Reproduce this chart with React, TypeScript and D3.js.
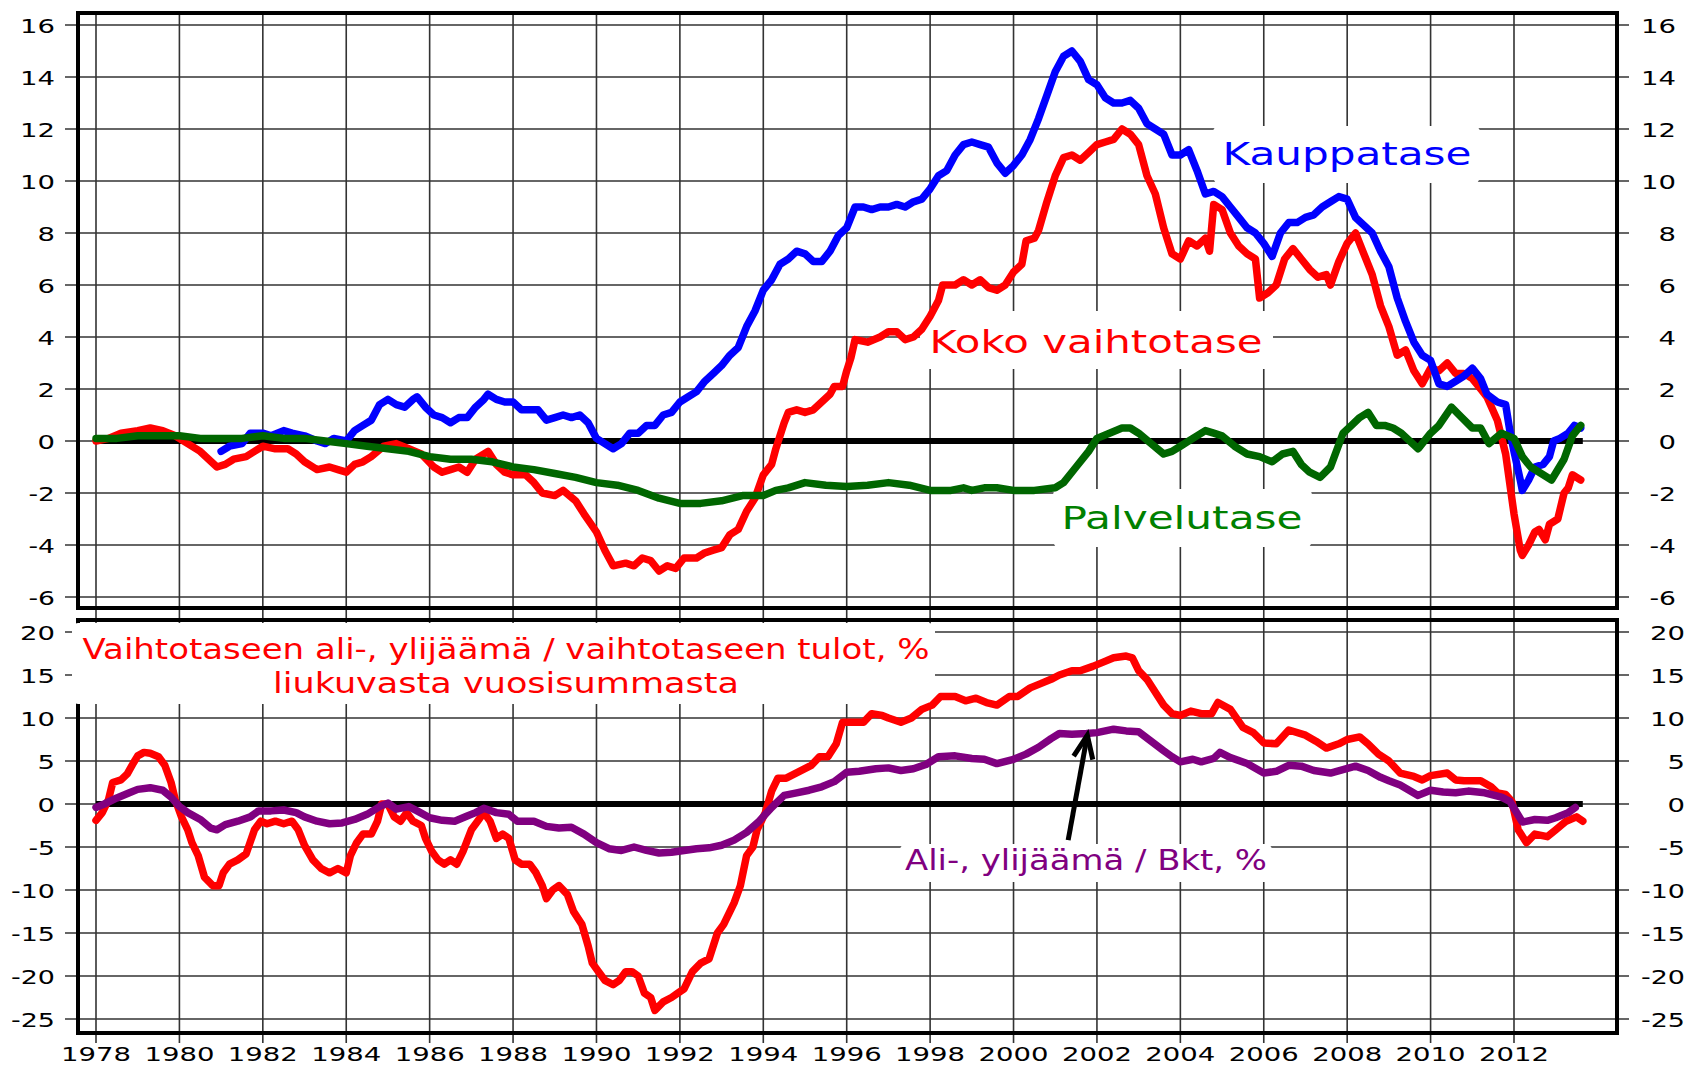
import React from 'react';
import * as d3 from 'd3';

type Pt = [number, number];

// x ticks (years) and y ticks for both panels
const years = d3.range(1978, 2013, 2);
const topTicks = d3.range(-6, 17, 2);
const botTicks = d3.range(-25, 21, 5);
const zeroSpan = [1978, 2013.65];

// upper panel, bn EUR rolling 12 months
const kokoVaihtotase: Pt[] = [
  [1978.0,0.0],[1978.3,0.1],[1978.6,0.3],[1979.0,0.4],[1979.3,0.5],[1979.6,0.4],[1979.9,0.2],[1980.2,-0.1],[1980.5,-0.4],[1980.7,-0.7],[1980.9,-1.0],
  [1981.1,-0.9],[1981.3,-0.7],[1981.6,-0.6],[1981.8,-0.4],[1982.0,-0.2],[1982.3,-0.3],[1982.6,-0.3],[1982.8,-0.5],[1983.0,-0.8],[1983.3,-1.1],
  [1983.6,-1.0],[1983.8,-1.1],[1984.0,-1.2],[1984.2,-0.9],[1984.4,-0.8],[1984.6,-0.6],[1984.9,-0.2],[1985.2,-0.1],[1985.5,-0.3],[1985.8,-0.5],
  [1986.1,-1.0],[1986.3,-1.2],[1986.5,-1.1],[1986.7,-1.0],[1986.9,-1.2],[1987.1,-0.7],[1987.4,-0.4],[1987.6,-0.9],[1987.8,-1.2],[1988.0,-1.3],
  [1988.3,-1.3],[1988.5,-1.6],[1988.7,-2.0],[1989.0,-2.1],[1989.2,-1.9],[1989.5,-2.3],[1989.7,-2.8],[1990.0,-3.5],[1990.2,-4.2],[1990.4,-4.8],
  [1990.7,-4.7],[1990.9,-4.8],[1991.1,-4.5],[1991.3,-4.6],[1991.5,-5.0],[1991.7,-4.8],[1991.9,-4.9],[1992.1,-4.5],[1992.4,-4.5],[1992.6,-4.3],
  [1992.8,-4.2],[1993.0,-4.1],[1993.2,-3.6],[1993.4,-3.4],[1993.6,-2.7],[1993.8,-2.2],[1994.0,-1.3],[1994.2,-0.9],[1994.3,-0.3],[1994.5,0.7],
  [1994.6,1.1],[1994.8,1.2],[1995.0,1.1],[1995.2,1.2],[1995.4,1.5],[1995.6,1.8],[1995.7,2.1],[1995.9,2.1],[1996.0,2.7],[1996.1,3.2],[1996.2,3.9],
  [1996.5,3.8],[1996.8,4.0],[1997.0,4.2],[1997.2,4.2],[1997.4,3.9],[1997.6,4.0],[1997.8,4.3],[1998.0,4.8],[1998.2,5.4],[1998.3,6.0],[1998.6,6.0],
  [1998.8,6.2],[1999.0,6.0],[1999.2,6.2],[1999.4,5.9],[1999.6,5.8],[1999.8,6.0],[2000.0,6.5],[2000.2,6.8],[2000.3,7.7],[2000.5,7.8],[2000.6,8.1],
  [2000.8,9.2],[2001.0,10.2],[2001.2,10.9],[2001.4,11.0],[2001.6,10.8],[2001.8,11.1],[2002.0,11.4],[2002.2,11.5],[2002.4,11.6],[2002.6,12.0],
  [2002.8,11.8],[2003.0,11.4],[2003.2,10.2],[2003.4,9.5],[2003.6,8.2],[2003.8,7.2],[2004.0,7.0],[2004.2,7.7],[2004.4,7.5],[2004.6,7.8],[2004.7,7.3],
  [2004.8,9.1],[2005.0,8.9],[2005.2,8.0],[2005.4,7.5],[2005.6,7.2],[2005.8,7.0],[2005.9,5.5],[2006.1,5.7],[2006.3,6.0],[2006.5,7.0],[2006.7,7.4],
  [2006.9,7.0],[2007.1,6.6],[2007.3,6.3],[2007.5,6.4],[2007.6,6.0],[2007.8,6.9],[2008.0,7.6],[2008.2,8.0],[2008.4,7.2],[2008.6,6.4],[2008.8,5.2],
  [2009.0,4.4],[2009.2,3.3],[2009.4,3.5],[2009.6,2.7],[2009.8,2.2],[2010.0,2.8],[2010.2,2.7],[2010.4,3.0],[2010.6,2.6],[2010.8,2.6],[2011.0,2.4],
  [2011.2,2.0],[2011.35,1.7],[2011.6,0.8],[2011.8,-0.5],[2012.0,-2.8],[2012.15,-4.2],[2012.2,-4.4],[2012.35,-4.0],[2012.5,-3.5],[2012.6,-3.4],
  [2012.75,-3.8],[2012.85,-3.2],[2013.05,-3.0],[2013.2,-2.0],[2013.3,-1.8],[2013.4,-1.3],[2013.6,-1.5],
];

const kauppatase: Pt[] = [
  [1981.0,-0.4],[1981.2,-0.2],[1981.5,-0.1],[1981.7,0.3],[1982.0,0.3],[1982.2,0.2],[1982.5,0.4],[1982.7,0.3],[1983.0,0.2],[1983.3,0.0],[1983.5,-0.1],
  [1983.7,0.1],[1984.0,0.0],[1984.2,0.4],[1984.4,0.6],[1984.6,0.8],[1984.8,1.4],[1985.0,1.6],[1985.2,1.4],[1985.4,1.3],[1985.6,1.6],[1985.7,1.7],
  [1985.9,1.3],[1986.1,1.0],[1986.3,0.9],[1986.5,0.7],[1986.7,0.9],[1986.9,0.9],[1987.1,1.3],[1987.3,1.6],[1987.4,1.8],[1987.6,1.6],[1987.8,1.5],
  [1988.0,1.5],[1988.2,1.2],[1988.4,1.2],[1988.6,1.2],[1988.8,0.8],[1989.0,0.9],[1989.2,1.0],[1989.4,0.9],[1989.6,1.0],[1989.8,0.7],[1990.0,0.1],
  [1990.2,-0.1],[1990.4,-0.3],[1990.6,-0.1],[1990.8,0.3],[1991.0,0.3],[1991.2,0.6],[1991.4,0.6],[1991.6,1.0],[1991.8,1.1],[1992.0,1.5],[1992.2,1.7],
  [1992.4,1.9],[1992.6,2.3],[1992.8,2.6],[1993.0,2.9],[1993.2,3.3],[1993.4,3.6],[1993.6,4.4],[1993.8,5.0],[1994.0,5.8],[1994.2,6.2],[1994.4,6.8],
  [1994.6,7.0],[1994.8,7.3],[1995.0,7.2],[1995.2,6.9],[1995.4,6.9],[1995.6,7.3],[1995.8,7.9],[1996.0,8.2],[1996.2,9.0],[1996.4,9.0],[1996.6,8.9],
  [1996.8,9.0],[1997.0,9.0],[1997.2,9.1],[1997.4,9.0],[1997.6,9.2],[1997.8,9.3],[1998.0,9.7],[1998.2,10.2],[1998.4,10.4],[1998.6,11.0],[1998.8,11.4],
  [1999.0,11.5],[1999.2,11.4],[1999.4,11.3],[1999.6,10.7],[1999.8,10.3],[2000.0,10.6],[2000.2,11.0],[2000.4,11.6],[2000.6,12.4],[2000.8,13.3],
  [2001.0,14.2],[2001.2,14.8],[2001.4,15.0],[2001.6,14.6],[2001.8,13.9],[2002.0,13.7],[2002.2,13.2],[2002.4,13.0],[2002.6,13.0],[2002.8,13.1],
  [2003.0,12.8],[2003.2,12.2],[2003.4,12.0],[2003.6,11.8],[2003.8,11.0],[2004.0,11.0],[2004.2,11.2],[2004.4,10.4],[2004.6,9.5],[2004.8,9.6],
  [2005.0,9.4],[2005.2,9.0],[2005.4,8.6],[2005.6,8.2],[2005.8,8.0],[2006.0,7.6],[2006.2,7.1],[2006.4,8.0],[2006.6,8.4],[2006.8,8.4],[2007.0,8.6],
  [2007.2,8.7],[2007.4,9.0],[2007.6,9.2],[2007.8,9.4],[2008.0,9.3],[2008.2,8.6],[2008.4,8.3],[2008.6,8.0],[2008.8,7.3],[2009.0,6.7],[2009.2,5.5],
  [2009.4,4.6],[2009.6,3.8],[2009.8,3.3],[2010.0,3.1],[2010.2,2.2],[2010.4,2.1],[2010.6,2.3],[2010.8,2.5],[2011.0,2.8],[2011.2,2.4],[2011.35,1.8],
  [2011.6,1.5],[2011.8,1.4],[2011.9,0.4],[2012.0,-0.4],[2012.15,-1.5],[2012.2,-1.9],[2012.35,-1.5],[2012.5,-1.0],[2012.7,-0.9],[2012.85,-0.6],
  [2012.95,0.0],[2013.1,0.1],[2013.3,0.3],[2013.45,0.6],[2013.6,0.5],
];

const palvelutase: Pt[] = [
  [1978.0,0.1],[1978.5,0.1],[1979.0,0.2],[1979.5,0.2],[1980.0,0.2],[1980.5,0.1],[1981.0,0.1],[1981.5,0.1],[1982.0,0.2],[1982.5,0.1],[1983.0,0.1],
  [1983.5,0.0],[1984.0,-0.1],[1984.5,-0.2],[1985.0,-0.3],[1985.5,-0.4],[1986.0,-0.6],[1986.5,-0.7],[1987.0,-0.7],[1987.5,-0.8],[1988.0,-1.0],
  [1988.5,-1.1],[1989.0,-1.25],[1989.5,-1.4],[1990.0,-1.6],[1990.5,-1.7],[1991.0,-1.9],[1991.5,-2.2],[1992.0,-2.4],[1992.5,-2.4],[1993.0,-2.3],
  [1993.5,-2.1],[1994.0,-2.1],[1994.3,-1.9],[1994.6,-1.8],[1995.0,-1.6],[1995.5,-1.7],[1996.0,-1.75],[1996.5,-1.7],[1997.0,-1.6],[1997.5,-1.7],
  [1998.0,-1.9],[1998.5,-1.9],[1998.8,-1.8],[1999.0,-1.9],[1999.3,-1.8],[1999.6,-1.8],[2000.0,-1.9],[2000.5,-1.9],[2001.0,-1.8],[2001.2,-1.6],
  [2001.5,-1.0],[2001.8,-0.4],[2002.0,0.1],[2002.3,0.3],[2002.6,0.5],[2002.8,0.5],[2003.0,0.3],[2003.3,-0.1],[2003.6,-0.5],[2003.8,-0.4],
  [2004.0,-0.2],[2004.3,0.1],[2004.6,0.4],[2004.8,0.3],[2005.0,0.2],[2005.3,-0.2],[2005.6,-0.5],[2005.9,-0.6],[2006.2,-0.8],[2006.45,-0.5],
  [2006.7,-0.4],[2006.9,-0.9],[2007.1,-1.2],[2007.35,-1.4],[2007.6,-1.0],[2007.9,0.3],[2008.1,0.6],[2008.3,0.9],[2008.5,1.1],[2008.7,0.6],
  [2008.9,0.6],[2009.1,0.5],[2009.3,0.3],[2009.5,0.0],[2009.7,-0.3],[2010.0,0.3],[2010.2,0.6],[2010.5,1.3],[2010.75,0.9],[2011.0,0.5],[2011.2,0.5],
  [2011.4,-0.1],[2011.7,0.3],[2012.0,0.1],[2012.2,-0.6],[2012.4,-1.0],[2012.7,-1.3],[2012.9,-1.5],[2013.2,-0.7],[2013.4,0.2],[2013.6,0.6],
];

// lower panel, %
const tulotPct: Pt[] = [
  [1978.0,-1.9],[1978.15,-1.0],[1978.3,0.5],[1978.4,2.5],[1978.6,2.8],[1978.75,3.5],[1978.9,4.8],[1979.0,5.6],[1979.15,6.0],[1979.3,5.9],
  [1979.5,5.5],[1979.65,4.5],[1979.8,2.5],[1979.9,0.5],[1980.05,-1.5],[1980.2,-3.0],[1980.3,-4.5],[1980.45,-6.0],[1980.6,-8.5],[1980.8,-9.5],
  [1980.95,-9.5],[1981.05,-8.0],[1981.2,-7.0],[1981.4,-6.5],[1981.6,-5.8],[1981.8,-3.0],[1981.95,-2.0],[1982.1,-2.3],[1982.3,-2.0],[1982.5,-2.3],
  [1982.7,-2.0],[1982.85,-3.0],[1983.0,-4.8],[1983.2,-6.5],[1983.4,-7.5],[1983.6,-8.0],[1983.8,-7.5],[1984.0,-8.0],[1984.1,-6.0],[1984.25,-4.5],
  [1984.4,-3.5],[1984.6,-3.5],[1984.75,-2.0],[1984.85,0.0],[1985.0,0.0],[1985.15,-1.5],[1985.3,-2.0],[1985.45,-1.0],[1985.6,-2.0],[1985.8,-2.5],
  [1985.9,-4.0],[1986.05,-5.5],[1986.2,-6.5],[1986.35,-7.0],[1986.5,-6.5],[1986.65,-7.0],[1986.8,-5.5],[1987.0,-3.0],[1987.15,-2.0],[1987.3,-1.0],
  [1987.45,-2.0],[1987.6,-4.0],[1987.75,-3.5],[1987.9,-4.0],[1988.05,-6.5],[1988.2,-7.0],[1988.4,-7.0],[1988.55,-8.0],[1988.7,-9.5],[1988.8,-11.0],
  [1988.95,-10.0],[1989.1,-9.5],[1989.3,-10.5],[1989.45,-12.5],[1989.65,-14.0],[1989.8,-16.5],[1989.9,-18.5],[1990.05,-19.5],[1990.2,-20.5],
  [1990.4,-21.0],[1990.55,-20.5],[1990.7,-19.5],[1990.85,-19.5],[1991.0,-20.0],[1991.15,-22.0],[1991.3,-22.5],[1991.4,-24.0],[1991.6,-23.0],
  [1991.8,-22.5],[1991.95,-22.0],[1992.1,-21.5],[1992.3,-19.5],[1992.5,-18.5],[1992.7,-18.0],[1992.9,-15.0],[1993.05,-14.0],[1993.3,-11.5],
  [1993.45,-9.5],[1993.6,-6.0],[1993.75,-5.0],[1993.85,-3.0],[1994.05,-1.0],[1994.2,1.5],[1994.35,3.0],[1994.55,3.0],[1994.75,3.5],[1994.95,4.0],
  [1995.15,4.5],[1995.35,5.5],[1995.55,5.5],[1995.75,7.0],[1995.9,9.5],[1996.1,9.5],[1996.4,9.5],[1996.6,10.5],[1996.85,10.3],[1997.0,10.0],
  [1997.3,9.5],[1997.55,10.0],[1997.8,11.0],[1998.05,11.5],[1998.25,12.5],[1998.6,12.5],[1998.85,12.0],[1999.1,12.3],[1999.35,11.8],[1999.6,11.5],
  [1999.9,12.5],[2000.1,12.5],[2000.4,13.5],[2000.65,14.0],[2000.9,14.5],[2001.1,15.0],[2001.4,15.5],[2001.6,15.5],[2001.9,16.0],[2002.15,16.5],
  [2002.4,17.0],[2002.7,17.2],[2002.85,17.0],[2003.0,15.5],[2003.2,14.5],[2003.4,13.0],[2003.6,11.5],[2003.8,10.5],[2004.0,10.3],[2004.25,10.8],
  [2004.5,10.5],[2004.75,10.5],[2004.9,11.8],[2005.2,11.0],[2005.5,8.9],[2005.75,8.3],[2006.0,7.1],[2006.3,7.0],[2006.6,8.6],[2007.0,8.0],
  [2007.25,7.3],[2007.5,6.5],[2007.8,7.0],[2008.0,7.5],[2008.3,7.8],[2008.5,7.0],[2008.75,5.8],[2009.0,5.0],[2009.27,3.6],[2009.6,3.2],[2009.8,2.8],
  [2010.0,3.3],[2010.4,3.6],[2010.6,2.8],[2010.8,2.7],[2011.2,2.7],[2011.45,2.0],[2011.6,1.3],[2011.8,1.1],[2011.95,0.3],[2012.1,-3.0],[2012.3,-4.5],
  [2012.5,-3.5],[2012.8,-3.8],[2013.0,-3.0],[2013.25,-2.0],[2013.5,-1.5],[2013.65,-2.0],
];

const bktPct: Pt[] = [
  [1978.0,-0.4],[1978.2,0.0],[1978.5,0.7],[1978.8,1.3],[1979.0,1.7],[1979.3,1.9],[1979.6,1.6],[1979.8,0.8],[1980.0,-0.3],[1980.2,-1.0],[1980.5,-1.8],
  [1980.75,-2.8],[1980.9,-3.0],[1981.1,-2.4],[1981.4,-2.0],[1981.7,-1.5],[1981.9,-0.8],[1982.2,-0.8],[1982.5,-0.7],[1982.8,-1.0],[1983.0,-1.5],
  [1983.3,-2.0],[1983.6,-2.3],[1983.9,-2.2],[1984.2,-1.8],[1984.5,-1.2],[1984.8,-0.3],[1985.0,0.1],[1985.2,-0.6],[1985.5,-0.3],[1985.7,-0.8],
  [1986.0,-1.6],[1986.3,-1.9],[1986.6,-2.0],[1986.9,-1.4],[1987.1,-1.0],[1987.3,-0.5],[1987.6,-1.0],[1987.9,-1.2],[1988.1,-2.0],[1988.5,-2.0],
  [1988.8,-2.6],[1989.1,-2.8],[1989.4,-2.7],[1989.7,-3.5],[1990.0,-4.5],[1990.3,-5.2],[1990.6,-5.4],[1990.9,-5.0],[1991.2,-5.4],[1991.5,-5.7],
  [1991.8,-5.6],[1992.1,-5.4],[1992.4,-5.2],[1992.7,-5.1],[1993.0,-4.8],[1993.3,-4.2],[1993.6,-3.3],[1993.9,-2.0],[1994.2,-0.4],[1994.5,1.0],
  [1994.8,1.3],[1995.1,1.6],[1995.4,2.0],[1995.7,2.6],[1996.0,3.7],[1996.3,3.8],[1996.7,4.1],[1997.0,4.2],[1997.3,3.9],[1997.6,4.1],[1997.9,4.6],
  [1998.2,5.5],[1998.6,5.6],[1999.0,5.3],[1999.3,5.2],[1999.6,4.7],[2000.0,5.2],[2000.3,5.8],[2000.6,6.6],[2000.9,7.6],[2001.1,8.2],[2001.4,8.1],
  [2001.75,8.2],[2002.0,8.3],[2002.4,8.7],[2002.7,8.5],[2003.0,8.4],[2003.3,7.3],[2003.6,6.2],[2003.8,5.5],[2004.0,4.9],[2004.3,5.2],[2004.5,4.9],
  [2004.8,5.3],[2004.95,6.0],[2005.2,5.4],[2005.6,4.7],[2006.0,3.6],[2006.3,3.8],[2006.6,4.5],[2006.9,4.4],[2007.2,3.9],[2007.6,3.6],[2007.9,4.0],
  [2008.2,4.4],[2008.5,3.9],[2008.8,3.1],[2009.0,2.7],[2009.27,2.2],[2009.7,1.0],[2010.0,1.6],[2010.3,1.4],[2010.6,1.3],[2010.9,1.5],[2011.3,1.3],
  [2011.7,0.8],[2011.9,0.3],[2012.0,-0.5],[2012.2,-2.1],[2012.5,-1.8],[2012.8,-1.9],[2013.0,-1.6],[2013.3,-1.0],[2013.47,-0.4],
];

// arrow annotation, in data units of the lower panel
const arrowFrom: Pt = [2001.31, -4.2];
const arrowTo: Pt = [2001.77, 8.0];

const W = 1690;
const H = 1066;
const left = 78;
const right = 1617;
const topY0 = 13, topY1 = 608;
const botY0 = 620, botY1 = 1033;
const font = '"DejaVu Sans", Verdana, sans-serif';
const gridColor = '#333';

const x = d3.scaleLinear().domain([1978, 2012]).range([96, 1514]);
const yTop = d3.scaleLinear().domain([-6, 16]).range([597, 25]);
const yBot = d3.scaleLinear().domain([-25, 20]).range([1019, 632]);

const lineTop = d3.line<Pt>().x(d => x(d[0])).y(d => yTop(d[1]));
const lineBot = d3.line<Pt>().x(d => x(d[0])).y(d => yBot(d[1]));

// wide "extended" look for the tick numbers
const labelLen = (s: string) => s.split('').reduce((a, c) => a + (c === '-' ? 9 : 17.5), 0);

function Label(props: { x: number; y: number; len: number; size: number; color: string; text: string }) {
  return (
    <text x={props.x} y={props.y} textAnchor="middle" fontSize={props.size} fill={props.color}
      textLength={props.len} lengthAdjust="spacingAndGlyphs" style={{ fontFamily: font }}>
      {props.text}
    </text>
  );
}

export default function App() {
  const ax1 = x(arrowFrom[0]), ay1 = yBot(arrowFrom[1]);
  const ax2 = x(arrowTo[0]), ay2 = yBot(arrowTo[1]);
  const ang = Math.atan2(ay1 - ay2, ax1 - ax2);
  const headLen = 25, spread = 0.4;
  const w1 = [ax2 + headLen * Math.cos(ang - spread), ay2 + headLen * Math.sin(ang - spread)];
  const w2 = [ax2 + headLen * Math.cos(ang + spread), ay2 + headLen * Math.sin(ang + spread)];

  return (
    <svg width={W} height={H} style={{ position: 'absolute', left: 0, top: 0, background: '#fff' }}>
      <rect width={W} height={H} fill="#fff" />

      {/* vertical grid with ticks below */}
      {years.map(yr => (
        <line key={'v' + yr} x1={x(yr)} x2={x(yr)} y1={topY0} y2={botY1 + 10} stroke={gridColor} strokeWidth={1.6} />
      ))}
      {topTicks.map(t => (
        <line key={'ht' + t} x1={left - 13} x2={right + 12} y1={yTop(t)} y2={yTop(t)} stroke={gridColor} strokeWidth={1.6} />
      ))}
      {botTicks.map(t => (
        <line key={'hb' + t} x1={left - 13} x2={right + 12} y1={yBot(t)} y2={yBot(t)} stroke={gridColor} strokeWidth={1.6} />
      ))}

      {/* panel frames */}
      <rect x={left} y={topY0} width={right - left} height={topY1 - topY0} fill="none" stroke="#000" strokeWidth={4} />
      <rect x={left} y={botY0} width={right - left} height={botY1 - botY0} fill="none" stroke="#000" strokeWidth={4} />

      {/* label backgrounds */}
      <rect x={1213} y={126} width={267} height={57} rx={6} fill="#fff" />
      <rect x={920} y={311} width={353} height={58} rx={6} fill="#fff" />
      <rect x={1053} y={489} width={259} height={58} rx={6} fill="#fff" />
      <rect x={72} y={623} width={863} height={81} rx={6} fill="#fff" />
      <rect x={900} y={844} width={372} height={38} rx={6} fill="#fff" />

      {/* zero lines */}
      <line x1={x(zeroSpan[0])} x2={x(zeroSpan[1])} y1={yTop(0)} y2={yTop(0)} stroke="#000" strokeWidth={6} />
      <line x1={x(zeroSpan[0])} x2={x(zeroSpan[1])} y1={yBot(0)} y2={yBot(0)} stroke="#000" strokeWidth={6} />

      {/* series */}
      <g fill="none" strokeWidth={7.5} strokeLinejoin="round" strokeLinecap="round">
        <path d={lineTop(kokoVaihtotase) || ''} stroke="#ff0000" />
        <path d={lineTop(kauppatase) || ''} stroke="#0000ff" />
        <path d={lineTop(palvelutase) || ''} stroke="#006600" />
        <path d={lineBot(tulotPct) || ''} stroke="#ff0000" />
        <path d={lineBot(bktPct) || ''} stroke="#800080" />
      </g>

      {/* series labels */}
      <Label x={1347} y={165} len={249} size={32} color="#0000ff" text="Kauppatase" />
      <Label x={1096} y={353} len={333} size={32} color="#ff0000" text="Koko vaihtotase" />
      <Label x={1182} y={529} len={241} size={32} color="#008000" text="Palvelutase" />
      <Label x={506} y={659} len={847} size={28} color="#ff0000" text="Vaihtotaseen ali-, ylijäämä / vaihtotaseen tulot, %" />
      <Label x={506} y={693} len={466} size={28} color="#ff0000" text="liukuvasta vuosisummasta" />
      <Label x={1086} y={870} len={362} size={28} color="#800080" text="Ali-, ylijäämä / Bkt, %" />

      {/* arrow */}
      <line x1={ax1} y1={ay1} x2={ax2} y2={ay2} stroke="#000" strokeWidth={5} />
      <polyline points={`${w1[0]},${w1[1]} ${ax2},${ay2} ${w2[0]},${w2[1]}`} fill="none" stroke="#000" strokeWidth={5} strokeLinejoin="miter" />

      {/* tick labels */}
      <g fontSize={20} fill="#000" style={{ fontFamily: font }}>
        {topTicks.map(t => (
          <g key={'lt' + t}>
            <text x={55} y={yTop(t) + 7.5} textAnchor="end" textLength={labelLen(String(t))} lengthAdjust="spacingAndGlyphs">{t}</text>
            <text x={1676} y={yTop(t) + 7.5} textAnchor="end" textLength={labelLen(String(t))} lengthAdjust="spacingAndGlyphs">{t}</text>
          </g>
        ))}
        {botTicks.map(t => (
          <g key={'lb' + t}>
            <text x={55} y={yBot(t) + 7.5} textAnchor="end" textLength={labelLen(String(t))} lengthAdjust="spacingAndGlyphs">{t}</text>
            <text x={1685} y={yBot(t) + 7.5} textAnchor="end" textLength={labelLen(String(t))} lengthAdjust="spacingAndGlyphs">{t}</text>
          </g>
        ))}
        {years.map(yr => (
          <text key={'yl' + yr} x={x(yr)} y={1061} textAnchor="middle" textLength={labelLen(String(yr))} lengthAdjust="spacingAndGlyphs">{yr}</text>
        ))}
      </g>
    </svg>
  );
}
